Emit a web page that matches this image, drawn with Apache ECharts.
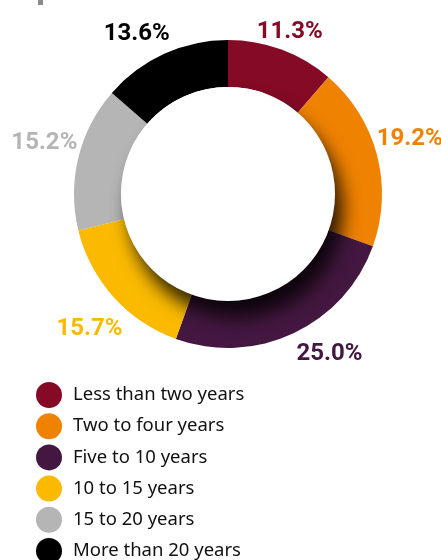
<!DOCTYPE html>
<html>
<head>
<meta charset="utf-8">
<script src="https://cdn.jsdelivr.net/npm/echarts@6/dist/echarts.min.js"></script>
<style>
  html, body { margin: 0; padding: 0; background: #ffffff; }
  #chart { width: 441px; height: 560px; }
</style>
</head>
<body>
<div id="chart"></div>
<script>
const categories = ['Less than two years', 'Two to four years', 'Five to 10 years', '10 to 15 years', '15 to 20 years', 'More than 20 years'];
const shares = [11.3, 19.2, 25.0, 15.7, 15.2, 13.6];
const colors = ['#840a26', '#ef8200', '#43173f', '#fbba00', '#b5b5b5', '#000000'];

// label nudges relative to the default centred position on the label ring
const labelNudges = [[-4, 15], [-1, -7], [21, -11], [2, 9], [0, -6], [-13, 12]];

const chart = echarts.init(document.getElementById('chart'), null, { renderer: 'canvas' });
const center = [228, 194];
const pieData = categories.map((name, i) => ({ name, value: shares[i], itemStyle: { color: colors[i] } }));

chart.setOption({
  animation: false,
  legend: {
    orient: 'vertical',
    left: 31,
    top: 377,
    height: 200,
    icon: 'circle',
    itemWidth: 26,
    itemHeight: 26,
    itemGap: 5.2,
    selectedMode: false,
    data: categories,
    textStyle: { fontFamily: 'Noto Sans', fontSize: 18.5, color: '#111', padding: [0, 0, 0, 6] }
  },
  graphic: [{ type: 'rect', left: 38, top: 0, shape: { width: 5, height: 5 }, style: { fill: '#8a8a8a' }, silent: true }],
  series: [
    {
      type: 'pie',
      center: center,
      radius: [107, 154],
      startAngle: 90,
      clockwise: true,
      silent: true,
      label: { show: false },
      labelLine: { show: false },
      data: pieData
    },
    {
      type: 'pie',
      center: center,
      radius: [0, 107],
      silent: true,
      z: 3,
      label: { show: false },
      labelLine: { show: false },
      itemStyle: { color: '#ffffff', shadowBlur: 18, shadowOffsetX: 8, shadowOffsetY: 16, shadowColor: 'rgba(0,0,0,0.8)' },
      data: [{ value: 1, name: 'hole' }],
      legendHoverLink: false
    },
    {
      type: 'pie',
      center: center,
      radius: [168, 204],
      startAngle: 90,
      clockwise: true,
      silent: true,
      z: 4,
      itemStyle: { color: 'rgba(0,0,0,0)' },
      label: {
        show: true,
        position: 'inside',
        formatter: p => p.value.toFixed(1) + '%',
        fontFamily: 'Roboto',
        fontWeight: 'bold',
        fontSize: 24,
        color: 'inherit'
      },
      labelLine: { show: false },
      data: categories.map((name, i) => ({ name, value: shares[i], label: { color: colors[i], offset: labelNudges[i] } }))
    }
  ]
});
</script>
</body>
</html>
